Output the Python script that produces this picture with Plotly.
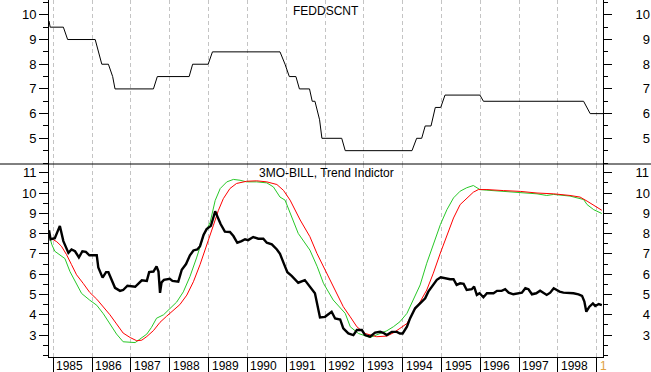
import plotly.graph_objects as go

# ---- data (decimal years) ----
fed_t = [1984.89, 1984.92, 1985.26, 1985.37, 1986.08, 1986.17, 1986.25, 1986.42, 1986.53, 1986.59,
         1987.58, 1987.68, 1988.50, 1988.59, 1988.99, 1989.10, 1990.84, 1990.97, 1991.08, 1991.25,
         1991.34, 1991.60, 1991.67, 1991.74, 1991.80, 1991.86, 1991.92, 1992.43, 1992.52, 1994.24,
         1994.36, 1994.49, 1994.58, 1994.73, 1994.84, 1994.98, 1995.09, 1995.99, 1996.08, 1998.66,
         1998.83, 1999.16]
fed_v = [9.75, 9.5, 9.5, 9.0, 9.0, 8.5, 8.0, 8.0, 7.5, 7.0,
         7.0, 7.5, 7.5, 8.0, 8.0, 8.5, 8.5, 8.0, 7.5, 7.5,
         7.0, 7.0, 6.5, 6.5, 6.1, 5.75, 5.0, 5.0, 4.5, 4.5,
         5.0, 5.0, 5.5, 5.5, 6.25, 6.25, 6.75, 6.75, 6.5, 6.5,
         6.0, 6.0]

bill_t = [1984.89, 1984.93, 1985.04, 1985.17, 1985.26, 1985.39, 1985.47, 1985.56, 1985.66, 1985.75,
          1985.84, 1985.93, 1986.12, 1986.16, 1986.27, 1986.36, 1986.42, 1986.59, 1986.72, 1986.80,
          1986.91, 1987.02, 1987.11, 1987.20, 1987.28, 1987.41, 1987.47, 1987.58, 1987.66, 1987.71,
          1987.75, 1987.79, 1987.85, 1988.00, 1988.07, 1988.22, 1988.31, 1988.42, 1988.52, 1988.61,
          1988.71, 1988.78, 1988.87, 1988.95, 1989.06, 1989.12, 1989.17, 1989.23, 1989.31, 1989.42,
          1989.55, 1989.64, 1989.74, 1989.85, 1989.94, 1990.02, 1990.15, 1990.28, 1990.41, 1990.50,
          1990.63, 1990.76, 1990.84, 1990.95, 1991.03, 1991.14, 1991.31, 1991.48, 1991.61, 1991.74,
          1991.87, 1992.00, 1992.17, 1992.26, 1992.39, 1992.47, 1992.60, 1992.73, 1992.82, 1992.95,
          1993.03, 1993.16, 1993.29, 1993.42, 1993.50, 1993.59, 1993.72, 1993.85, 1993.93, 1994.00,
          1994.11, 1994.19, 1994.32, 1994.45, 1994.58, 1994.66, 1994.79, 1994.88, 1994.98, 1995.09,
          1995.22, 1995.31, 1995.39, 1995.48, 1995.57, 1995.65, 1995.78, 1995.84, 1995.91, 1995.98,
          1996.08, 1996.17, 1996.34, 1996.43, 1996.55, 1996.64, 1996.73, 1996.85, 1996.98, 1997.07,
          1997.16, 1997.24, 1997.33, 1997.44, 1997.54, 1997.63, 1997.71, 1997.80, 1997.89, 1997.97,
          1998.04, 1998.14, 1998.27, 1998.40, 1998.53, 1998.62, 1998.68, 1998.73, 1998.81, 1998.90,
          1998.96, 1999.05, 1999.13]
bill_v = [8.17, 7.72, 7.77, 8.38, 7.63, 7.05, 7.22, 7.13, 6.83, 7.13,
          7.10, 6.93, 6.93, 6.33, 5.83, 6.10, 6.10, 5.33, 5.18, 5.22,
          5.43, 5.42, 5.38, 5.55, 5.70, 5.67, 6.10, 6.13, 6.38, 6.13,
          5.08, 5.60, 5.72, 5.77, 5.67, 5.63, 6.22, 6.50, 6.93, 7.17,
          7.22, 7.38, 7.93, 8.22, 8.38, 8.77, 9.10, 8.83, 8.47, 8.10,
          8.08, 7.88, 7.55, 7.63, 7.72, 7.68, 7.83, 7.75, 7.75, 7.55,
          7.47, 7.22, 7.00, 6.47, 6.10, 5.92, 5.58, 5.71, 5.38, 5.06,
          3.87, 3.90, 4.15, 3.82, 3.77, 3.33, 3.08, 3.00, 3.25, 3.25,
          3.00, 2.92, 3.12, 3.16, 3.11, 3.00, 3.16, 3.16, 3.08, 3.08,
          3.41, 3.82, 4.32, 4.56, 4.81, 5.14, 5.47, 5.72, 5.85, 5.80,
          5.75, 5.75, 5.47, 5.55, 5.52, 5.22, 5.26, 5.39, 4.98, 5.06,
          4.86, 5.06, 5.06, 5.18, 5.18, 5.26, 5.09, 5.01, 5.06, 5.09,
          5.31, 5.26, 5.01, 5.06, 5.19, 5.06, 4.98, 5.09, 5.31, 5.22,
          5.14, 5.09, 5.09, 5.06, 5.01, 4.93, 4.65, 4.15, 4.40, 4.56,
          4.43, 4.53, 4.48]

slow_t = [1984.89, 1985.09, 1985.21, 1985.34, 1985.47, 1985.60, 1985.77, 1985.94, 1986.12, 1986.29,
          1986.46, 1986.63, 1986.80, 1986.98, 1987.15, 1987.28, 1987.41, 1987.58, 1987.75, 1987.92,
          1988.09, 1988.26, 1988.44, 1988.61, 1988.78, 1988.95, 1989.12, 1989.25, 1989.38, 1989.55,
          1989.72, 1989.98, 1990.24, 1990.50, 1990.76, 1990.93, 1991.10, 1991.36, 1991.61, 1991.79,
          1991.96, 1992.13, 1992.30, 1992.47, 1992.65, 1992.82, 1993.03, 1993.33, 1993.59, 1993.76,
          1993.93, 1994.11, 1994.28, 1994.45, 1994.62, 1994.79, 1994.97, 1995.14, 1995.31, 1995.48,
          1995.65, 1995.82, 1995.95, 1996.17, 1996.60, 1997.03, 1997.46, 1997.89, 1998.31, 1998.57,
          1998.75, 1998.92, 1999.13]
slow_v = [7.83, 7.60, 7.38, 6.97, 6.47, 5.97, 5.55, 5.10, 4.77, 4.38,
          4.00, 3.55, 3.10, 2.88, 2.72, 2.75, 2.93, 3.22, 3.63, 3.93,
          4.22, 4.50, 4.97, 5.63, 6.47, 7.38, 8.38, 9.13, 9.72, 10.22,
          10.47, 10.58, 10.60, 10.55, 10.42, 10.13, 9.65, 8.67, 7.85, 7.03,
          6.37, 5.71, 5.06, 4.40, 3.90, 3.41, 3.08, 2.92, 2.95, 3.11,
          3.33, 3.57, 4.15, 4.64, 5.22, 6.05, 7.04, 7.95, 8.77, 9.43,
          9.76, 10.04, 10.17, 10.17, 10.12, 10.08, 10.00, 9.96, 9.88, 9.80,
          9.60, 9.38, 9.15]

fast_t = [1984.89, 1984.96, 1985.04, 1985.17, 1985.30, 1985.43, 1985.56, 1985.73, 1985.94, 1986.12,
          1986.29, 1986.46, 1986.63, 1986.80, 1986.98, 1987.11, 1987.23, 1987.41, 1987.53, 1987.66,
          1987.84, 1988.01, 1988.18, 1988.35, 1988.52, 1988.69, 1988.87, 1989.04, 1989.17, 1989.30,
          1989.47, 1989.64, 1989.81, 1989.98, 1990.24, 1990.50, 1990.67, 1990.84, 1990.97, 1991.31,
          1991.61, 1991.80, 1991.96, 1992.21, 1992.52, 1992.65, 1992.86, 1993.16, 1993.42, 1993.59,
          1993.76, 1993.93, 1994.11, 1994.28, 1994.45, 1994.62, 1994.79, 1994.97, 1995.14, 1995.31,
          1995.48, 1995.65, 1995.82, 1995.91, 1995.99, 1996.17, 1996.60, 1997.03, 1997.46, 1997.71,
          1997.89, 1998.31, 1998.66, 1998.75, 1998.92, 1999.13]
fast_v = [7.97, 7.47, 7.13, 6.93, 6.77, 6.13, 5.63, 5.05, 4.72, 4.47,
          4.05, 3.55, 3.05, 2.67, 2.63, 2.63, 2.80, 3.05, 3.38, 3.83,
          4.00, 4.30, 4.63, 5.13, 5.88, 6.80, 7.88, 8.55, 9.63, 10.22,
          10.55, 10.67, 10.63, 10.55, 10.55, 10.50, 10.30, 9.80, 9.65, 8.01,
          7.19, 6.37, 5.55, 4.73, 4.07, 3.41, 3.08, 2.88, 3.08, 3.21,
          3.41, 3.66, 4.07, 4.73, 5.47, 6.54, 7.45, 8.44, 9.18, 9.76,
          10.09, 10.26, 10.37, 10.26, 10.17, 10.14, 10.09, 10.04, 9.96, 9.88,
          9.93, 9.85, 9.68, 9.43, 9.18, 8.99]

years = list(range(1985, 2000))
year_labels = [str(y) for y in years[:-1]] + ["1"]
top_ticks = [5, 6, 7, 8, 9, 10]
bot_ticks = [3, 4, 5, 6, 7, 8, 9, 10, 11]
top_title = "FEDDSCNT"
bot_title = "3MO-BILL, Trend Indictor"

FONT = "Liberation Sans, Arial, sans-serif"
W, H = 651, 372
ML, MR, MT, MB = 49, 48, 0, 15
PH = H - MT - MB
PW = W - ML - MR
split = 1 - 164 / PH
XR = [1984.89, 1999.16]
TOP_R = [3.96, 10.6]
BOT_R = [1.92, 11.43]
FS = "\u2007"

fig = go.Figure()
fig.add_trace(go.Scatter(x=fed_t, y=fed_v, mode="lines", line=dict(color="black", width=1),
                         xaxis="x2", yaxis="y2", hoverinfo="skip"))
fig.add_trace(go.Scatter(x=fast_t, y=fast_v, mode="lines", line=dict(color="rgb(40,200,40)", width=1),
                         xaxis="x", yaxis="y", hoverinfo="skip"))
fig.add_trace(go.Scatter(x=slow_t, y=slow_v, mode="lines", line=dict(color="#ff0000", width=1),
                         xaxis="x", yaxis="y", hoverinfo="skip"))
fig.add_trace(go.Scatter(x=bill_t, y=bill_v, mode="lines", line=dict(color="black", width=2.4),
                         xaxis="x", yaxis="y", hoverinfo="skip"))
# invisible carriers for the right-hand axes
fig.add_trace(go.Scatter(x=[XR[0]], y=[7], mode="markers", opacity=0, xaxis="x", yaxis="y3", hoverinfo="skip"))
fig.add_trace(go.Scatter(x=[XR[0]], y=[7], mode="markers", opacity=0, xaxis="x2", yaxis="y4", hoverinfo="skip"))

grid = dict(showgrid=True, gridcolor="#c4c4c4", gridwidth=1, griddash="4px,3px",
            tickmode="array", tickvals=years, range=XR, zeroline=False, automargin=False, fixedrange=True)
tickfont = dict(family=FONT, size=13, color="black")

def yax(rng, ticks, domain, side, labels_right=False):
    d = dict(range=rng, domain=domain, tickmode="array", tickvals=ticks, automargin=False,
             showgrid=False, zeroline=False, showline=True, linecolor="black", linewidth=1,
             ticks="outside", ticklen=9 if side == "left" else 8, tickcolor="black", tickwidth=1,
             minor=dict(tickmode="linear", tick0=0, dtick=0.5, ticks="outside",
                        ticklen=5 if side == "left" else 4, tickcolor="black", tickwidth=1, showgrid=False),
             tickfont=tickfont, side=side, fixedrange=True)
    if labels_right:
        d["ticktext"] = [(FS + str(t)) if t < 10 else str(t) for t in ticks]
        d["ticklabelstandoff"] = 21
    return d

layout = dict(
    width=W, height=H, margin=dict(l=ML, r=MR, t=MT, b=MB, pad=0, autoexpand=False),
    paper_bgcolor="white", plot_bgcolor="white", showlegend=False,
    font=dict(family=FONT, size=12, color="black"),
    xaxis=dict(**grid, anchor="y", domain=[0, 1], showline=True, linecolor="black", linewidth=1,
               ticks="outside", ticklen=15, tickcolor="black", showticklabels=False),
    xaxis2=dict(**grid, anchor="y2", domain=[0, 1], matches="x", showline=False,
                ticks="", showticklabels=False),
    yaxis=yax(BOT_R, bot_ticks, [0, split], "left"),
    yaxis2=yax(TOP_R, top_ticks, [split, 1], "left"),
    yaxis3={**yax(BOT_R, bot_ticks, [0, split], "right", True), "overlaying": "y", "anchor": "x"},
    yaxis4={**yax(TOP_R, top_ticks, [split, 1], "right", True), "overlaying": "y2", "anchor": "x2"},
)
fig.update_layout(**layout)
fig.update_layout(yaxis2_anchor="x2")

fig.add_shape(type="line", xref="paper", yref="paper", x0=-ML / PW, x1=(W - ML) / PW,
              y0=split, y1=split, line=dict(color="black", width=1))

ann = []
for y, lab in zip(years, year_labels):
    ann.append(dict(x=y, y=0, xref="x", yref="paper", text=lab, showarrow=False,
                    xanchor="left", yanchor="top", xshift=1, yshift=0,
                    font=dict(family=FONT, size=12, color="black" if lab != "1" else "#e0a040")))
ann.append(dict(x=0.5, y=1 - 10.7 / PH, xref="paper", yref="paper", text=top_title, showarrow=False,
                xanchor="center", yanchor="middle", font=dict(family=FONT, size=12, color="black")))
ann.append(dict(x=0.5, y=1 - 173.3 / PH, xref="paper", yref="paper", text=bot_title, showarrow=False,
                xanchor="center", yanchor="middle", font=dict(family=FONT, size=12, color="black")))
fig.update_layout(annotations=ann)

fig.write_html("out.html", config={"displayModeBar": False},
               post_script="document.body.style.margin='0';document.body.style.padding='0';"
                           "document.body.style.overflow='hidden';")
